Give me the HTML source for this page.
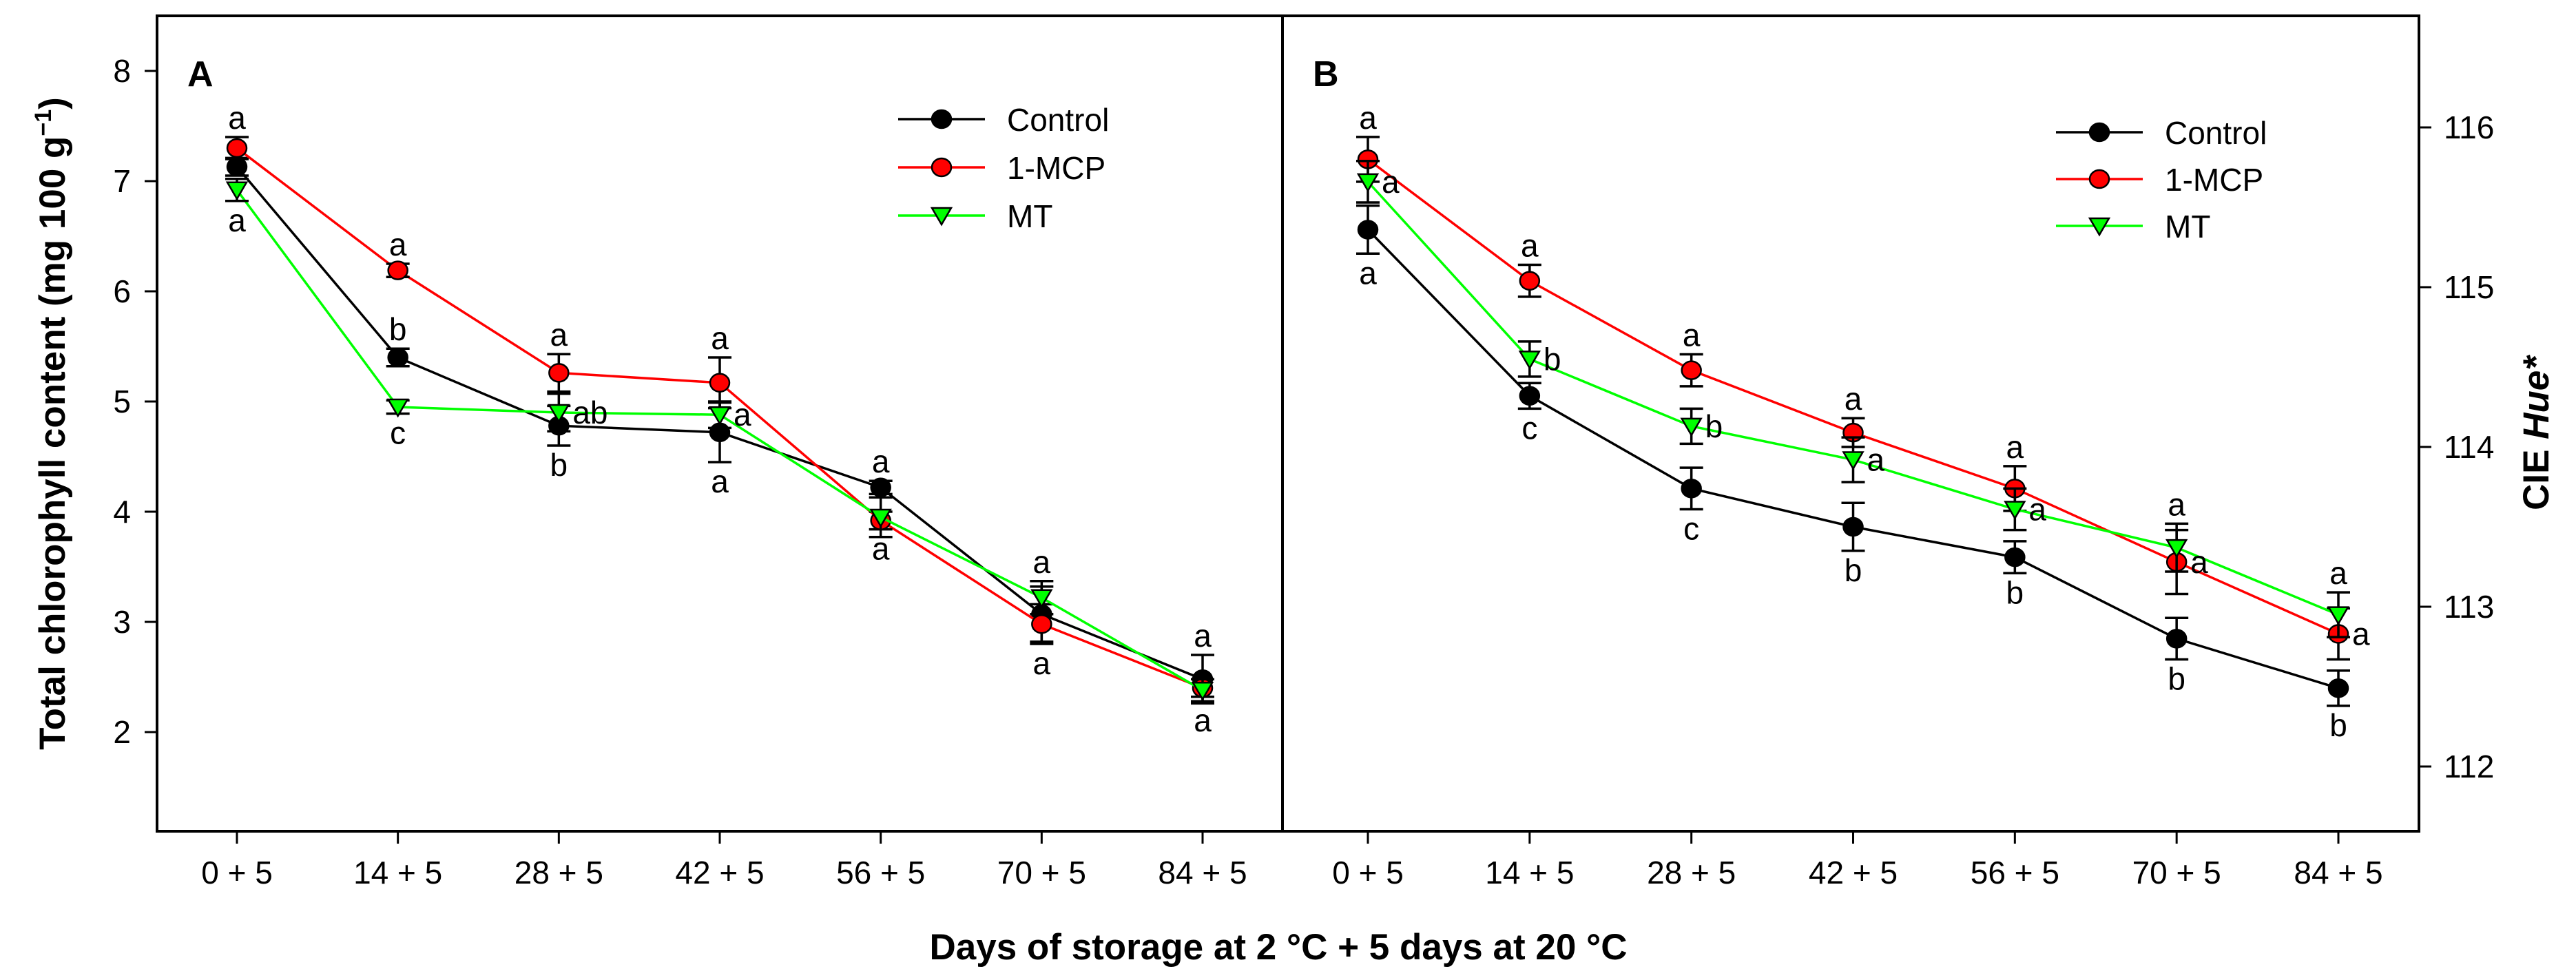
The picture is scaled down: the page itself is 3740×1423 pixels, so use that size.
<!DOCTYPE html>
<html><head><meta charset="utf-8"><style>
html,body{margin:0;padding:0;background:#fff}
svg{display:block}
text{font-family:"Liberation Sans",Arial,sans-serif}
</style></head><body>
<svg id="chart" width="3740" height="1423" viewBox="0 0 3740 1423">
<rect x="0" y="0" width="3740" height="1423" fill="#fff"/>
</svg>
<script>
const categories = ["0 + 5","14 + 5","28 + 5","42 + 5","56 + 5","70 + 5","84 + 5"];
const seriesNames = ["Control","1-MCP","MT"];
// Panel A: total chlorophyll
const aControl = [7.13,5.40,4.78,4.72,4.22,3.07,2.48];
const aMCP     = [7.30,6.19,5.26,5.17,3.92,2.98,2.40];
const aMT      = [6.92,4.95,4.90,4.88,3.95,3.22,2.38];
const aControlErr = [0.08,0.08,0.18,0.27,0.06,0.25,0.22];
const aMCPErr     = [0.10,0.06,0.17,0.23,0.08,0.18,0.08];
const aMTErr      = [0.10,0.06,0.17,0.12,0.18,0.15,0.10];
const aTicks = [2,3,4,5,6,7,8];
// Panel B: CIE Hue*
const bControl = [115.36,114.32,113.74,113.50,113.31,112.80,112.49];
const bMCP     = [115.80,115.04,114.48,114.09,113.74,113.28,112.83];
const bMT      = [115.66,114.55,114.13,113.92,113.61,113.37,112.95];
const bControlErr = [0.15,0.08,0.13,0.15,0.10,0.13,0.11];
const bMCPErr     = [0.14,0.10,0.10,0.09,0.14,0.20,0.16];
const bMTErr      = [0.13,0.11,0.11,0.14,0.13,0.15,0.14];
const bTicks = [112,113,114,115,116];
// significance letters: [series index, category index, position, letter]
const aLetters = [[1,0,"above","a"],[2,0,"below","a"],[1,1,"above","a"],[0,1,"above","b"],[2,1,"below","c"],
 [1,2,"above","a"],[2,2,"right","ab"],[0,2,"below","b"],[1,3,"above","a"],[2,3,"right","a"],[0,3,"below","a"],
 [0,4,"above","a"],[1,4,"below","a"],[2,5,"above","a"],[1,5,"below","a"],[0,6,"above","a"],[2,6,"below","a"]];
const bLetters = [[1,0,"above","a"],[2,0,"right","a"],[0,0,"below","a"],[1,1,"above","a"],[2,1,"right","b"],[0,1,"below","c"],
 [1,2,"above","a"],[2,2,"right","b"],[0,2,"below","c"],[1,3,"above","a"],[2,3,"right","a"],[0,3,"below","b"],
 [1,4,"above","a"],[2,4,"right","a"],[0,4,"below","b"],[2,5,"above","a"],[1,5,"right","a"],[0,5,"below","b"],
 [2,6,"above","a"],[1,6,"right","a"],[0,6,"below","b"]];

const NS="http://www.w3.org/2000/svg";
const svg=document.getElementById('chart');
function mk(tag,attrs,parent,txt){const e=document.createElementNS(NS,tag);for(const k in attrs)e.setAttribute(k,attrs[k]);if(txt!==undefined)e.textContent=txt;(parent||svg).appendChild(e);return e;}
const colors=["#000000","#ff0000","#00ff00"];
const FS=46;

function panel(opts){
  const g=mk('g',{});
  
  
  const xs=i=>opts.x0+i*(opts.x1-opts.x0)/(categories.length-1);
  const ys=v=>opts.yTop+(opts.vTop-v)*opts.ppu;
  const fr=mk('rect',{x:opts.L,y:23,width:opts.R-opts.L,height:1207-23,fill:'none',stroke:'#000','stroke-width':4},g);
  
  categories.forEach((c,i)=>{
    const x=xs(i);
    const t=mk('line',{x1:x,x2:x,y1:1207,y2:1225,stroke:'#000','stroke-width':3},g);
    
    const l=mk('text',{x:x,y:1283,'text-anchor':'middle','font-size':FS},g,c);
    
  });
  opts.ticks.forEach(v=>{
    const y=ys(v);
    if(opts.side==='left'){
      const t=mk('line',{x1:opts.L-18,x2:opts.L,y1:y,y2:y,stroke:'#000','stroke-width':3},g);
      
      const l=mk('text',{x:opts.L-38,y:y+16,'text-anchor':'end','font-size':FS},g,v);
      
    } else {
      const t=mk('line',{x1:opts.R,x2:opts.R+18,y1:y,y2:y,stroke:'#000','stroke-width':3},g);
      
      const l=mk('text',{x:opts.R+36,y:y+16,'text-anchor':'start','font-size':FS},g,v);
      
    }
  });
  const pl=mk('text',{x:opts.L+44,y:125,'font-size':52,'font-weight':'bold'},g,opts.label);
  
  opts.series.forEach((vals,s)=>{
    const sg=mk('g',{},g);
    
    
    const pts=vals.map((v,i)=>xs(i)+','+ys(v)).join(' ');
    const pl=mk('polyline',{points:pts,fill:'none',stroke:colors[s],'stroke-width':3.5},sg);
    
    vals.forEach((v,i)=>{
      const x=xs(i),e=opts.errs[s][i],yt=ys(v+e),yb=ys(v-e);
      const eb=mk('path',{d:`M${x},${yt}V${yb}M${x-17},${yt}H${x+17}M${x-17},${yb}H${x+17}`,stroke:'#000','stroke-width':3.5,fill:'none'},sg);
      
    });
    vals.forEach((v,i)=>{
      const x=xs(i),y=ys(v);let m;
      if(s===2){m=mk('path',{d:`M${x-14},${y-11}L${x+14},${y-11}L${x},${y+13}Z`,fill:colors[s],stroke:'#000','stroke-width':2.5},sg);}
      else{m=mk('ellipse',{cx:x,cy:y,rx:14,ry:13,fill:colors[s],stroke:'#000','stroke-width':2.5},sg);}
      
    });
  });
  opts.letters.forEach(([s,i,pos,txt])=>{
    const v=opts.series[s][i],e=opts.errs[s][i],x=xs(i);
    let tx=x,ty,anc='middle';
    if(pos==='above'){ty=ys(v+e)-12;}
    else if(pos==='below'){ty=ys(v-e)+44;}
    else {tx=x+20;ty=ys(v)+16;anc='start';}
    const t=mk('text',{x:tx,y:ty,'text-anchor':anc,'font-size':FS},g,txt);
    
  });
  const lg=mk('g',{},g);
  
  seriesNames.forEach((n,s)=>{
    const y=opts.legY+s*opts.legDy,x0=opts.legX,x1=opts.legX+126,xm=(x0+x1)/2;
    const eg=mk('g',{},lg);
    
    mk('line',{x1:x0,x2:x1,y1:y,y2:y,stroke:colors[s],'stroke-width':3.5},eg);
    if(s===2)mk('path',{d:`M${xm-14},${y-11}L${xm+14},${y-11}L${xm},${y+13}Z`,fill:colors[s],stroke:'#000','stroke-width':2.5},eg);
    else mk('ellipse',{cx:xm,cy:y,rx:14,ry:13,fill:colors[s],stroke:'#000','stroke-width':2.5},eg);
    mk('text',{x:x1+32,y:y+17,'font-size':FS},eg,n);
  });
}
panel({name:'panel-a',label:'A',L:228,R:1862,x0:344,x1:1746,yTop:103,vTop:8,ppu:160,ticks:aTicks,side:'left',
  series:[aControl,aMCP,aMT],errs:[aControlErr,aMCPErr,aMTErr],letters:aLetters,legX:1304,legY:173,legDy:70});
panel({name:'panel-b',label:'B',L:1862,R:3512,x0:1986,x1:3395,yTop:185,vTop:116,ppu:232,ticks:bTicks,side:'right',
  series:[bControl,bMCP,bMT],errs:[bControlErr,bMCPErr,bMTErr],letters:bLetters,legX:2985,legY:192,legDy:68});

const yt=mk('text',{x:0,y:0,'font-size':53,'font-weight':'bold','text-anchor':'middle',transform:'translate(94,615) rotate(-90)'},svg);

yt.innerHTML='Total chlorophyll content (mg 100 g<tspan dy="-20" font-size="34">−1</tspan><tspan dy="20">)</tspan>';
const yr=mk('text',{x:0,y:0,'font-size':53,'font-weight':'bold','text-anchor':'middle',transform:'translate(3700,629) rotate(-90)'},svg);

yr.innerHTML='CIE <tspan font-style="italic">Hue*</tspan>';
const xt=mk('text',{x:1856,y:1393,'font-size':53,'font-weight':'bold','text-anchor':'middle'},svg,'Days of storage at 2 °C + 5 days at 20 °C');

</script>
</body></html>
